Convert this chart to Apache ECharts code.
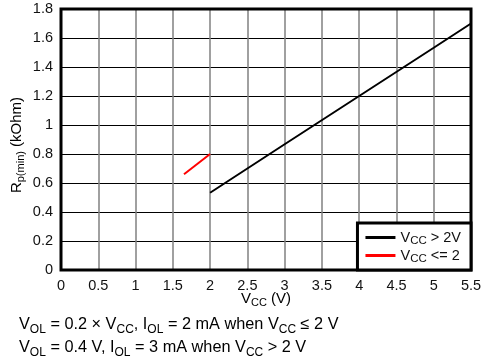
<!DOCTYPE html>
<html><head><meta charset="utf-8">
<script src="https://cdn.jsdelivr.net/npm/echarts@6/dist/echarts.min.js"></script>
<style>html,body{margin:0;padding:0;background:#fff}#c{width:504px;height:360px}</style>
</head><body><div id="c"></div>
<script>
var xTicks = [0, 0.5, 1, 1.5, 2, 2.5, 3, 3.5, 4, 4.5, 5, 5.5];
var yTicks = [0, 0.2, 0.4, 0.6, 0.8, 1, 1.2, 1.4, 1.6, 1.8];
var vccHigh = [2, 3, 4, 5, 5.5];
var rHigh = [0.533, 0.867, 1.2, 1.533, 1.7];
var vccLow = [1.65, 2];
var rLow = [0.66, 0.8];
var seriesNames = ['VCC > 2V', 'VCC <= 2'];

var FONT = 'Liberation Sans, Arial, sans-serif';
var TXT = '#111';
function pairs(xs, ys) { return xs.map(function (x, i) { return [x, ys[i]]; }); }
var nameRich = {
  n: { fontFamily: FONT, fontSize: 15, color: TXT },
  s: { fontFamily: FONT, fontSize: 11, color: TXT, padding: [8, 0, 0, 0] }
};
var legRich = {
  n: { fontFamily: FONT, fontSize: 14.5, color: TXT },
  s: { fontFamily: FONT, fontSize: 11.5, color: TXT, padding: [7, 0, 0, 0] }
};
var noteRich = {
  b: { fontFamily: FONT, fontSize: 16.3, color: TXT },
  t: { fontFamily: FONT, fontSize: 12, color: TXT, padding: [9, 0, 0, 0] }
};
var chart = echarts.init(document.getElementById('c'));
chart.setOption({
  animation: false,
  backgroundColor: '#fff',
  grid: { left: 61, right: 33, top: 9, bottom: 90, show: true, borderColor: '#000', borderWidth: 3, z: 5 },
  xAxis: {
    type: 'value', min: 0, max: 5.5, interval: 0.5,
    axisLine: { show: false }, axisTick: { show: false },
    axisLabel: { color: TXT, fontFamily: FONT, fontSize: 14.5, margin: 8,
      formatter: function (v) { return String(v); } },
    splitLine: { lineStyle: { color: '#808080', width: 1.5 } }
  },
  yAxis: {
    type: 'value', min: 0, max: 1.8, interval: 0.2,
    axisLine: { show: false }, axisTick: { show: false },
    axisLabel: { color: TXT, fontFamily: FONT, fontSize: 14.5, margin: 8,
      formatter: function (v) { return String(+v.toFixed(1)); } },
    splitLine: { lineStyle: { color: '#000', width: 1 } }
  },
  legend: {
    orient: 'vertical', right: 33, bottom: 90,
    data: seriesNames,
    backgroundColor: '#fff', borderColor: '#000', borderWidth: 3,
    padding: [7, 10, 5, 8], itemGap: 1, itemWidth: 30, itemHeight: 3,
    icon: 'rect',
    formatter: function (name) {
      return name === seriesNames[0] ? '{n|V}{s|CC}{n| > 2V}' : '{n|V}{s|CC}{n| <= 2}';
    },
    textStyle: { rich: legRich },
    z: 10
  },
  series: [
    { name: seriesNames[0], type: 'line', data: pairs(vccHigh, rHigh), symbol: 'none',
      lineStyle: { color: '#000', width: 2 }, itemStyle: { color: '#000' } },
    { name: seriesNames[1], type: 'line', data: pairs(vccLow, rLow), symbol: 'none',
      lineStyle: { color: '#f00', width: 2 }, itemStyle: { color: '#f00' } }
  ],
  graphic: [
    { type: 'text', x: 17, y: 145, rotation: Math.PI / 2,
      style: { text: '{n|R}{s|p(min)}{n| (kOhm)}', rich: nameRich, align: 'center', verticalAlign: 'middle' } },
    { type: 'text', x: 266, y: 299,
      style: { text: '{n|V}{s|CC}{n| (V)}', rich: nameRich, align: 'center', verticalAlign: 'middle' } },
    { type: 'text', x: 19, y: 325,
      style: { text: '{b|V}{t|OL}{b| = 0.2 × V}{t|CC}{b|, I}{t|OL}{b| = 2 mA when V}{t|CC}{b| ≤ 2 V}',
        rich: noteRich, verticalAlign: 'middle' } },
    { type: 'text', x: 19, y: 348,
      style: { text: '{b|V}{t|OL}{b| = 0.4 V, I}{t|OL}{b| = 3 mA when V}{t|CC}{b| > 2 V}',
        rich: noteRich, verticalAlign: 'middle' } }
  ]
});
</script></body></html>
